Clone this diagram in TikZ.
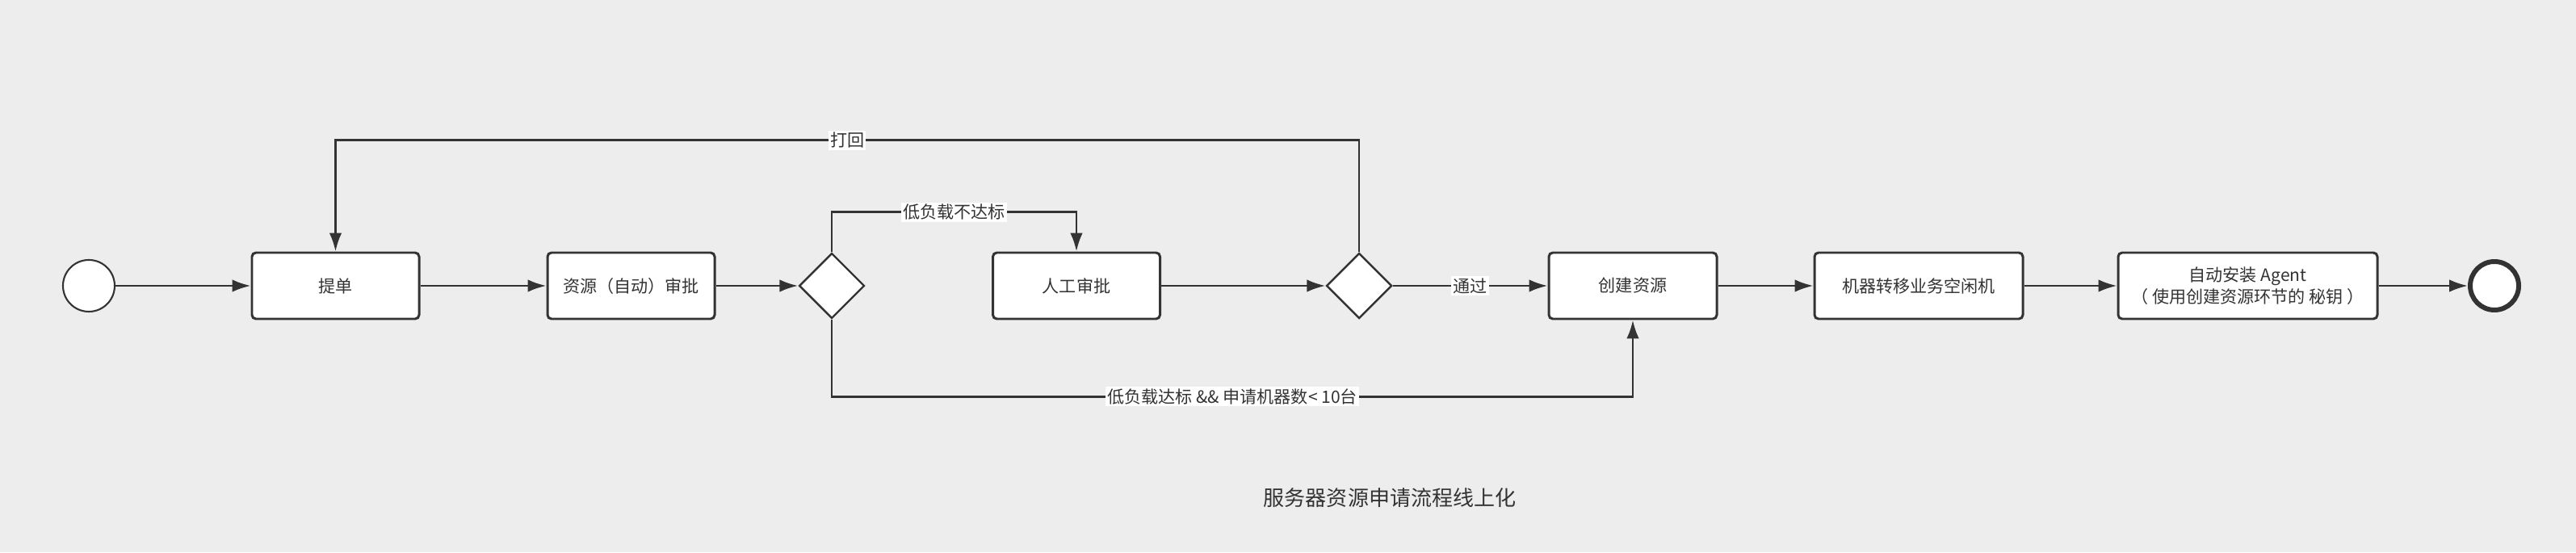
\documentclass[tikz,border=0pt]{standalone}
\usepackage{fontspec}
\setmainfont{Noto Sans CJK SC}
\usetikzlibrary{shapes.geometric,arrows.meta}
\definecolor{bgc}{HTML}{EDEDED}
\definecolor{lnc}{HTML}{333333}
\begin{document}
\begin{tikzpicture}[
		box/.style={draw=lnc,fill=white,line width=0.85pt,rounded corners=1.4pt,minimum width=2.07cm,minimum height=0.82cm,font=\fontsize{6}{7.7}\selectfont,text=lnc,align=center},
		dia/.style={draw=lnc,fill=white,diamond,line width=0.7pt,minimum width=0.81cm,minimum height=0.81cm,inner sep=0pt},
		arr/.style={-{Latex[length=6.5pt,width=4.4pt]},draw=lnc,line width=0.8pt},
		lbl/.style={fill=white,inner sep=0.6pt,font=\fontsize{6}{7}\selectfont,text=lnc}]
		\fill [bgc] (0,0) rectangle (31.9,6.84);
		\useasboundingbox (0,0) rectangle (31.9,6.84);
		\node (v1) at (1.10,3.30) [draw=lnc,fill=white,circle,line width=0.6pt,minimum size=0.64cm] {};
		\node (v2) at (4.155,3.30) [box] {提单};
		\node (v3) at (7.815,3.30) [box] {资源（自动）审批};
		\node (v4) at (10.30,3.30) [dia] {};
		\node (v5) at (13.33,3.30) [box] {人工审批};
		\node (v6) at (16.83,3.30) [dia] {};
		\node (v7) at (20.22,3.30) [box,minimum width=2.08cm] {创建资源};
		\node (v8) at (23.76,3.30) [box,minimum width=2.58cm] {机器转移业务空闲机};
		\node (v9) at (27.835,3.30) [box,minimum width=3.21cm] {自动安装 Agent\\（ 使用创建资源环节的 秘钥 ）};
		\node (v10) at (30.89,3.30) [draw=lnc,fill=white,circle,line width=1.7pt,minimum size=0.60cm] {};
		\node (v11) at (17.21,0.67) [font=\fontsize{7.4}{9}\selectfont,text=lnc] {服务器资源申请流程线上化};
		\draw [arr] (v1) -- (v2);
		\draw [arr] (v2) -- (v3);
		\draw [arr] (v3) -- (v4);
		\draw [arr] (v4.north) -- ++(0,0.495) -| node [lbl,pos=0.25] {低负载不达标} (v5.north);
		\draw [arr] (v4.south) -- ++(0,-0.955) -| node [lbl,pos=0.25] {低负载达标 \&\& 申请机器数< 10台} (v7.south);
		\draw [arr] (v5) -- (v6);
		\draw [arr] (v6) -- node [lbl] {通过} (v7);
		\draw [arr] (v6.north) -- ++(0,1.385) -| node [lbl,pos=0.25] {打回} (v2.north);
		\draw [arr] (v7) -- (v8);
		\draw [arr] (v8) -- (v9);
		\draw [arr] (v9) -- (v10);
\end{tikzpicture}
\end{document}
